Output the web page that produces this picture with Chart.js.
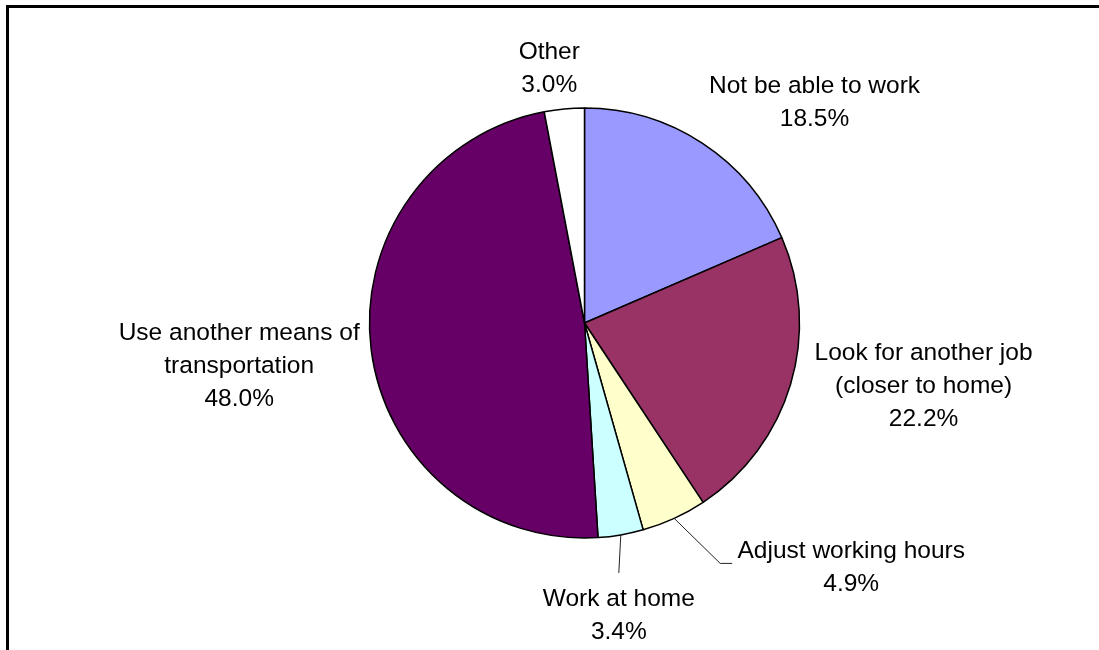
<!DOCTYPE html>
<html>
<head>
<meta charset="utf-8">
<title>Reaction</title>
<script src="https://cdn.jsdelivr.net/npm/chart.js@4/dist/chart.umd.min.js"></script>
<style>
  html, body { margin: 0; padding: 0; background: #fff; }
  #wrap { position: relative; width: 1099px; height: 650px; }
</style>
</head>
<body>
<div id="wrap"><canvas id="pieChart" width="1099" height="650"></canvas></div>
<script>
// slices, clockwise from 12 o'clock
const categories = [
  ['Not be able to work'],
  ['Look for another job', '(closer to home)'],
  ['Adjust working hours'],
  ['Work at home'],
  ['Use another means of', 'transportation'],
  ['Other']
];
const shares = [18.5, 22.2, 4.9, 3.4, 48.0, 3.0];
const sliceColors = ['#9999FF', '#993366', '#FFFFCC', '#CCFFFF', '#660066', '#FFFFFF'];

// where each label block sits, measured from the outer middle of its slice
const labelShift = [[112, -41], [133, 2], [177, 49], [-2, 81], [-132, 16], [-15, -40]];
// leader lines for the thin slices (points relative to the same spot)
const leaders = { 2: [[46, 45], [58, 45]], 3: [[-2, 38]] };

const FONT = '24.5px "Liberation Sans", Arial, sans-serif';
const LINE_H = 33;

// frame around the plot (only the left and top edges fall inside the page)
const framePlugin = {
  id: 'frame',
  beforeDraw(chart) {
    const ctx = chart.ctx;
    ctx.save();
    ctx.fillStyle = '#fff';
    ctx.fillRect(0, 0, chart.width, chart.height);
    ctx.fillStyle = '#000';
    ctx.fillRect(6, 5, 3, chart.height - 5);
    ctx.fillRect(6, 5, chart.width - 6, 3);
    ctx.restore();
  }
};

// category name + percentage outside each slice
const sliceLabels = {
  id: 'sliceLabels',
  afterDraw(chart) {
    const ctx = chart.ctx;
    const meta = chart.getDatasetMeta(0);
    ctx.save();
    ctx.font = FONT;
    ctx.fillStyle = '#000';
    ctx.textAlign = 'center';
    ctx.textBaseline = 'middle';
    meta.data.forEach((arc, i) => {
      const p = arc.getProps(['x', 'y', 'startAngle', 'endAngle', 'outerRadius'], true);
      const mid = (p.startAngle + p.endAngle) / 2;
      const ax = p.x + Math.cos(mid) * p.outerRadius;
      const ay = p.y + Math.sin(mid) * p.outerRadius;

      if (leaders[i]) {
        ctx.beginPath();
        ctx.strokeStyle = '#222';
        ctx.lineWidth = 1;
        ctx.moveTo(ax, ay);
        leaders[i].forEach(pt => ctx.lineTo(ax + pt[0], ay + pt[1]));
        ctx.stroke();
      }

      const lines = categories[i].concat([shares[i].toFixed(1) + '%']);
      const cx = ax + labelShift[i][0];
      const cy = ay + labelShift[i][1];
      const top = cy - (lines.length - 1) * LINE_H / 2;
      lines.forEach((txt, k) => ctx.fillText(txt, cx, top + k * LINE_H));
    });
    ctx.restore();
  }
};

const ctx = document.getElementById('pieChart').getContext('2d');
const myChart = new Chart(ctx, {
  type: 'pie',
  data: {
    labels: categories,
    datasets: [{
      data: shares,
      backgroundColor: sliceColors,
      borderColor: '#000',
      borderWidth: 1.5,
      radius: 215
    }]
  },
  options: {
    responsive: false,
    animation: false,
    events: [],
    layout: { padding: { left: 120, right: 50, top: 50, bottom: 54 } },
    plugins: {
      legend: { display: false },
      tooltip: { enabled: false },
      title: { display: false }
    }
  },
  plugins: [framePlugin, sliceLabels]
});
</script>
</body>
</html>
